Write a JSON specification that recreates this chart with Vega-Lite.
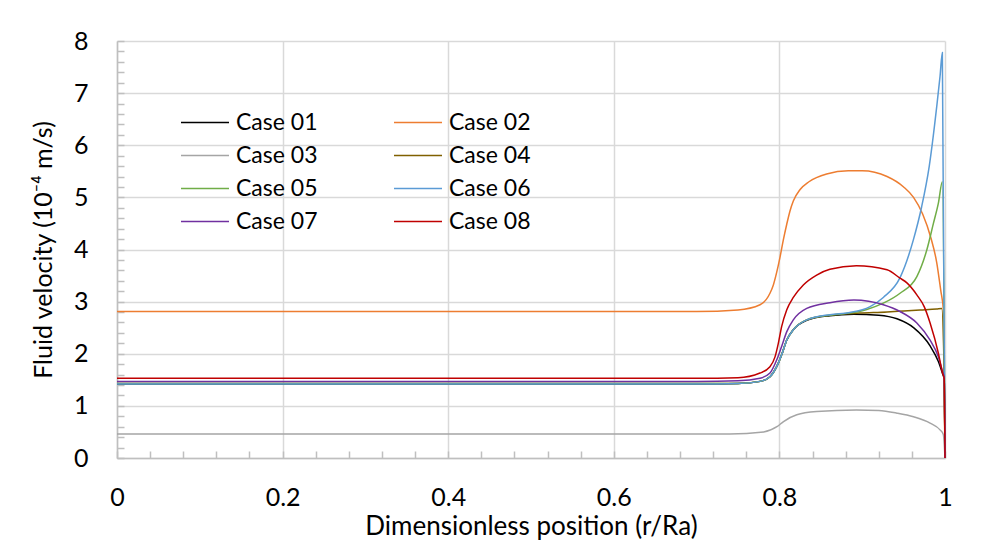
{
  "$schema": "https://vega.github.io/schema/vega-lite/v6.json",
  "autosize": "none",
  "padding": {"left": 117, "top": 41, "right": 50, "bottom": 88},
  "width": 828,
  "height": 417,
  "background": "white",
  "config": {
    "view": {"stroke": null},
    "font": "Lato",
    "axis": {"labelFont": "Lato", "titleFont": "Lato", "labelColor": "#000000", "titleColor": "#000000", "titleFontWeight": "normal", "labelFlush": false},
    "legend": {"labelFont": "Lato"}
  },
  "data": {"values": [
    {"c":"Case 01","x":0,"v":1.42},{"c":"Case 01","x":0.7,"v":1.42},{"c":"Case 01","x":0.75,"v":1.43},{"c":"Case 01","x":0.7766,"v":1.47},{"c":"Case 01","x":0.7886,"v":1.56},{"c":"Case 01","x":0.7987,"v":1.82},{"c":"Case 01","x":0.8027,"v":1.98},{"c":"Case 01","x":0.8088,"v":2.26},{"c":"Case 01","x":0.8168,"v":2.46},{"c":"Case 01","x":0.833,"v":2.64},{"c":"Case 01","x":0.861,"v":2.73},{"c":"Case 01","x":0.89,"v":2.76},{"c":"Case 01","x":0.92,"v":2.74},{"c":"Case 01","x":0.942,"v":2.67},{"c":"Case 01","x":0.962,"v":2.5},{"c":"Case 01","x":0.982,"v":2.15},{"c":"Case 01","x":0.992,"v":1.85},{"c":"Case 01","x":0.997,"v":1.62},{"c":"Case 01","x":0.999,"v":1.52},{"c":"Case 01","x":1,"v":0},

    {"c":"Case 02","x":0,"v":2.81},{"c":"Case 02","x":0.7,"v":2.81},{"c":"Case 02","x":0.75,"v":2.84},{"c":"Case 02","x":0.7766,"v":2.94},{"c":"Case 02","x":0.7886,"v":3.16},{"c":"Case 02","x":0.7927,"v":3.32},{"c":"Case 02","x":0.7967,"v":3.56},{"c":"Case 02","x":0.8007,"v":3.85},{"c":"Case 02","x":0.8047,"v":4.18},{"c":"Case 02","x":0.8088,"v":4.48},{"c":"Case 02","x":0.8128,"v":4.74},{"c":"Case 02","x":0.8168,"v":4.93},{"c":"Case 02","x":0.825,"v":5.15},{"c":"Case 02","x":0.8357,"v":5.3},{"c":"Case 02","x":0.857,"v":5.45},{"c":"Case 02","x":0.8832,"v":5.51},{"c":"Case 02","x":0.9,"v":5.51},{"c":"Case 02","x":0.93,"v":5.4},{"c":"Case 02","x":0.95,"v":5.2},{"c":"Case 02","x":0.962,"v":5.0},{"c":"Case 02","x":0.973,"v":4.68},{"c":"Case 02","x":0.983,"v":4.22},{"c":"Case 02","x":0.99,"v":3.75},{"c":"Case 02","x":0.995,"v":3.2},{"c":"Case 02","x":0.998,"v":2.85},{"c":"Case 02","x":1,"v":0},

    {"c":"Case 03","x":0,"v":0.46},{"c":"Case 03","x":0.7,"v":0.46},{"c":"Case 03","x":0.74,"v":0.46},{"c":"Case 03","x":0.781,"v":0.5},{"c":"Case 03","x":0.797,"v":0.6},{"c":"Case 03","x":0.805,"v":0.7},{"c":"Case 03","x":0.821,"v":0.83},{"c":"Case 03","x":0.845,"v":0.89},{"c":"Case 03","x":0.893,"v":0.92},{"c":"Case 03","x":0.92,"v":0.91},{"c":"Case 03","x":0.942,"v":0.86},{"c":"Case 03","x":0.962,"v":0.79},{"c":"Case 03","x":0.982,"v":0.67},{"c":"Case 03","x":0.994,"v":0.54},{"c":"Case 03","x":0.998,"v":0.45},{"c":"Case 03","x":1,"v":0},

    {"c":"Case 04","x":0,"v":1.43},{"c":"Case 04","x":0.7,"v":1.43},{"c":"Case 04","x":0.75,"v":1.43},{"c":"Case 04","x":0.7766,"v":1.47},{"c":"Case 04","x":0.7886,"v":1.56},{"c":"Case 04","x":0.7987,"v":1.82},{"c":"Case 04","x":0.8027,"v":1.98},{"c":"Case 04","x":0.8088,"v":2.26},{"c":"Case 04","x":0.8168,"v":2.46},{"c":"Case 04","x":0.833,"v":2.65},{"c":"Case 04","x":0.861,"v":2.74},{"c":"Case 04","x":0.897,"v":2.78},{"c":"Case 04","x":0.93,"v":2.8},{"c":"Case 04","x":0.95,"v":2.82},{"c":"Case 04","x":0.97,"v":2.84},{"c":"Case 04","x":0.99,"v":2.86},{"c":"Case 04","x":0.996,"v":2.87},{"c":"Case 04","x":0.999,"v":1.6},{"c":"Case 04","x":1,"v":0},

    {"c":"Case 05","x":0,"v":1.43},{"c":"Case 05","x":0.7,"v":1.43},{"c":"Case 05","x":0.75,"v":1.43},{"c":"Case 05","x":0.7766,"v":1.47},{"c":"Case 05","x":0.7886,"v":1.56},{"c":"Case 05","x":0.7987,"v":1.82},{"c":"Case 05","x":0.8027,"v":1.98},{"c":"Case 05","x":0.8088,"v":2.26},{"c":"Case 05","x":0.8168,"v":2.46},{"c":"Case 05","x":0.833,"v":2.65},{"c":"Case 05","x":0.861,"v":2.74},{"c":"Case 05","x":0.885,"v":2.78},{"c":"Case 05","x":0.9055,"v":2.85},{"c":"Case 05","x":0.9255,"v":2.97},{"c":"Case 05","x":0.9457,"v":3.16},{"c":"Case 05","x":0.966,"v":3.48},{"c":"Case 05","x":0.978,"v":3.99},{"c":"Case 05","x":0.986,"v":4.5},{"c":"Case 05","x":0.992,"v":4.89},{"c":"Case 05","x":0.9968,"v":5.3},{"c":"Case 05","x":1,"v":0},

    {"c":"Case 06","x":0,"v":1.42},{"c":"Case 06","x":0.7,"v":1.42},{"c":"Case 06","x":0.75,"v":1.43},{"c":"Case 06","x":0.7766,"v":1.47},{"c":"Case 06","x":0.7886,"v":1.56},{"c":"Case 06","x":0.7987,"v":1.82},{"c":"Case 06","x":0.8027,"v":1.98},{"c":"Case 06","x":0.8088,"v":2.26},{"c":"Case 06","x":0.8168,"v":2.46},{"c":"Case 06","x":0.833,"v":2.65},{"c":"Case 06","x":0.861,"v":2.75},{"c":"Case 06","x":0.885,"v":2.79},{"c":"Case 06","x":0.909,"v":2.9},{"c":"Case 06","x":0.9255,"v":3.08},{"c":"Case 06","x":0.9457,"v":3.46},{"c":"Case 06","x":0.9617,"v":4.18},{"c":"Case 06","x":0.9718,"v":4.82},{"c":"Case 06","x":0.981,"v":5.6},{"c":"Case 06","x":0.99,"v":6.74},{"c":"Case 06","x":0.994,"v":7.32},{"c":"Case 06","x":0.9968,"v":7.78},{"c":"Case 06","x":1,"v":0},

    {"c":"Case 07","x":0,"v":1.47},{"c":"Case 07","x":0.7,"v":1.47},{"c":"Case 07","x":0.75,"v":1.48},{"c":"Case 07","x":0.7766,"v":1.53},{"c":"Case 07","x":0.7886,"v":1.63},{"c":"Case 07","x":0.7967,"v":1.88},{"c":"Case 07","x":0.8027,"v":2.14},{"c":"Case 07","x":0.8088,"v":2.42},{"c":"Case 07","x":0.8168,"v":2.65},{"c":"Case 07","x":0.833,"v":2.87},{"c":"Case 07","x":0.861,"v":2.98},{"c":"Case 07","x":0.89,"v":3.03},{"c":"Case 07","x":0.9255,"v":2.94},{"c":"Case 07","x":0.9457,"v":2.81},{"c":"Case 07","x":0.966,"v":2.59},{"c":"Case 07","x":0.982,"v":2.26},{"c":"Case 07","x":0.992,"v":1.94},{"c":"Case 07","x":0.997,"v":1.66},{"c":"Case 07","x":0.999,"v":1.55},{"c":"Case 07","x":1,"v":0},

    {"c":"Case 08","x":0,"v":1.53},{"c":"Case 08","x":0.7,"v":1.53},{"c":"Case 08","x":0.75,"v":1.54},{"c":"Case 08","x":0.7766,"v":1.63},{"c":"Case 08","x":0.7886,"v":1.75},{"c":"Case 08","x":0.7947,"v":1.94},{"c":"Case 08","x":0.7987,"v":2.2},{"c":"Case 08","x":0.8027,"v":2.52},{"c":"Case 08","x":0.8088,"v":2.84},{"c":"Case 08","x":0.8168,"v":3.08},{"c":"Case 08","x":0.8289,"v":3.32},{"c":"Case 08","x":0.845,"v":3.51},{"c":"Case 08","x":0.861,"v":3.62},{"c":"Case 08","x":0.893,"v":3.69},{"c":"Case 08","x":0.93,"v":3.61},{"c":"Case 08","x":0.9457,"v":3.45},{"c":"Case 08","x":0.954,"v":3.36},{"c":"Case 08","x":0.966,"v":3.13},{"c":"Case 08","x":0.975,"v":2.9},{"c":"Case 08","x":0.982,"v":2.59},{"c":"Case 08","x":0.992,"v":2.01},{"c":"Case 08","x":0.997,"v":1.63},{"c":"Case 08","x":0.999,"v":1.52},{"c":"Case 08","x":1,"v":0}
  ]},
  "resolve": {"axis": {"x": "independent", "y": "independent"}},
  "layer": [
    {
      "mark": {"type": "point", "opacity": 0},
      "encoding": {
        "x": {"field": "x", "type": "quantitative", "scale": {"domain": [0, 1], "nice": false},
          "axis": {"orient": "bottom", "values": [0,0.04,0.08,0.12,0.16,0.2,0.24,0.28,0.32,0.36,0.4,0.44,0.48,0.52,0.56,0.6,0.64,0.68,0.72,0.76,0.8,0.84,0.88,0.92,0.96,1], "labels": false, "grid": false, "domain": false, "ticks": true, "tickSize": -7, "tickColor": "#bfbfbf", "tickWidth": 1.5, "title": null}},
        "y": {"field": "v", "type": "quantitative", "scale": {"domain": [0, 8], "nice": false},
          "axis": {"orient": "left", "values": [0,0.2,0.4,0.6,0.8,1,1.2,1.4,1.6,1.8,2,2.2,2.4,2.6,2.8,3,3.2,3.4,3.6,3.8,4,4.2,4.4,4.6,4.8,5,5.2,5.4,5.6,5.8,6,6.2,6.4,6.6,6.8,7,7.2,7.4,7.6,7.8,8], "labels": false, "grid": false, "domain": false, "ticks": true, "tickSize": -7, "tickColor": "#bfbfbf", "tickWidth": 1.5, "title": null}}
      }
    },
    {
      "mark": {"type": "line", "interpolate": "monotone", "strokeWidth": 1.5},
      "encoding": {
        "x": {"field": "x", "type": "quantitative", "scale": {"domain": [0, 1], "nice": false},
          "axis": {"orient": "bottom", "values": [0, 0.2, 0.4, 0.6, 0.8, 1], "format": "~g", "ticks": false, "grid": true, "gridColor": "#d9d9d9", "gridWidth": 1.5, "domain": true, "domainColor": "#bfbfbf", "domainWidth": 1.5, "labelFontSize": 25, "labelPadding": 27, "title": "Dimensionless position (r/Ra)", "titleFontSize": 26, "titlePadding": 3}},
        "y": {"field": "v", "type": "quantitative", "scale": {"domain": [0, 8], "nice": false},
          "axis": {"orient": "left", "values": [0,1,2,3,4,5,6,7,8], "format": "~g", "ticks": false, "grid": true, "gridColor": "#d9d9d9", "gridWidth": 1.5, "domain": true, "domainColor": "#bfbfbf", "domainWidth": 1.5, "labelFontSize": 25, "labelPadding": 29, "title": "Fluid velocity (10⁻⁴ m/s)", "titleFontSize": 25, "titlePadding": 17}},
        "color": {"field": "c", "type": "nominal",
          "scale": {"domain": ["Case 01","Case 02","Case 03","Case 04","Case 05","Case 06","Case 07","Case 08"], "range": ["#000000","#ED7D31","#A5A5A5","#806000","#70AD47","#5B9BD5","#7030A0","#C00000"]},
          "legend": {"title": null, "orient": "none", "direction": "horizontal", "legendX": 63, "legendY": 66, "columns": 2, "symbolType": "stroke", "symbolSize": 2304, "symbolStrokeWidth": 1.5, "labelFontSize": 23, "labelOffset": 6, "columnPadding": 75, "rowPadding": 2, "clipHeight": 31, "labelColor": "#000000"}},
        "order": {"field": "x", "type": "quantitative"}
      }
    }
  ]
}
